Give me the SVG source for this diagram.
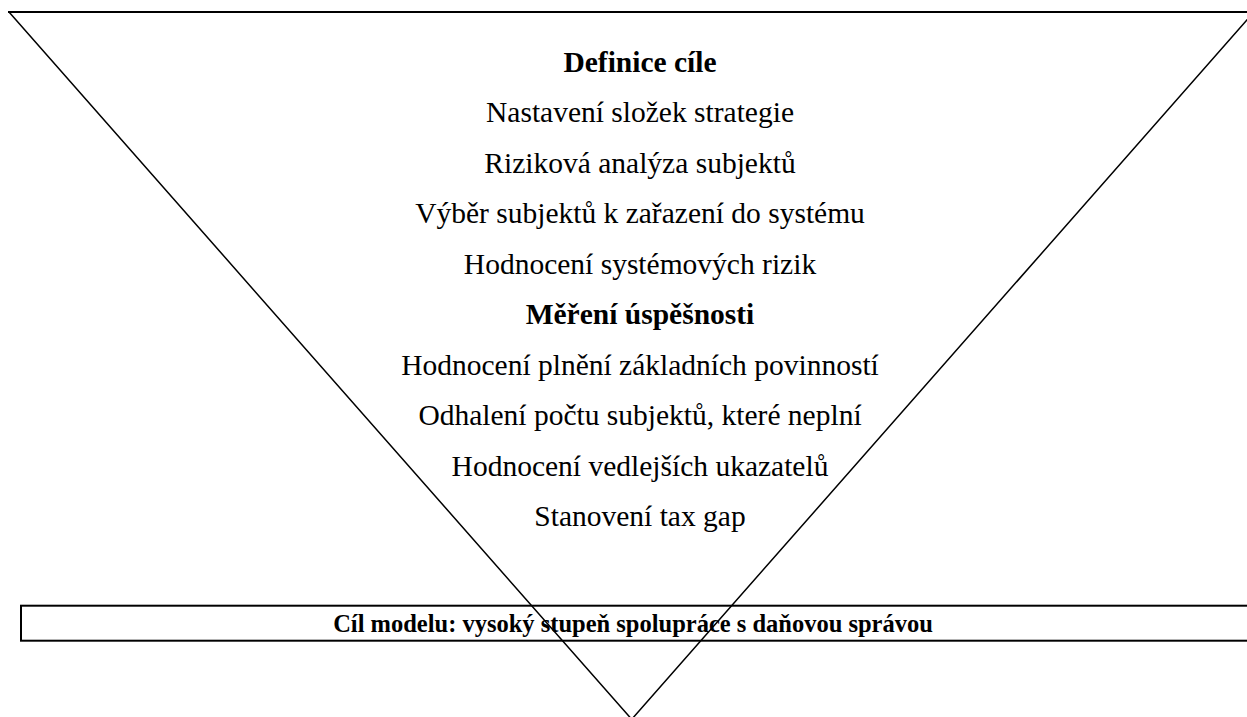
<svg xmlns="http://www.w3.org/2000/svg" width="1247" height="717" viewBox="0 0 1247 717">
  <style>
    .edge { fill: none; stroke: #000; stroke-width: 1.5; }
    .rim { fill: none; stroke: #000; stroke-width: 2; }
    .frame { fill: none; stroke: #000; stroke-width: 2; }
    .item { font-family: "Liberation Serif", "Times New Roman", serif; font-size: 29.5px; fill: #000; text-anchor: middle; }
    .head { font-weight: bold; }
    .goal { font-family: "Liberation Serif", "Times New Roman", serif; font-size: 24.5px; font-weight: bold; fill: #000; text-anchor: middle; }
  </style>
  <rect width="1247" height="717" fill="#fff"/>

  <!-- inverted funnel outline: top rim plus two converging sides -->
  <g id="connectors">
    <line class="rim" x1="8" y1="12" x2="1256" y2="12"/>
    <path class="edge" d="M9,12 L631.7,719.3 L1254,12"/>
  </g>

  <!-- steps listed inside the funnel -->
  <g id="steps">
    <text class="item head" x="640" y="71.5">Definice cíle</text>
    <text class="item" x="640" y="122">Nastavení složek strategie</text>
    <text class="item" x="640" y="172.5">Riziková analýza subjektů</text>
    <text class="item" x="640" y="223">Výběr subjektů k zařazení do systému</text>
    <text class="item" x="640" y="273.5">Hodnocení systémových rizik</text>
    <text class="item head" x="640" y="324">Měření úspěšnosti</text>
    <text class="item" x="640" y="374.5">Hodnocení plnění základních povinností</text>
    <text class="item" x="640" y="425">Odhalení počtu subjektů, které neplní</text>
    <text class="item" x="640" y="475.5">Hodnocení vedlejších ukazatelů</text>
    <text class="item" x="640" y="526">Stanovení tax gap</text>
  </g>

  <!-- model goal bar -->
  <g id="goal">
    <rect class="frame" x="21" y="605.7" width="1240" height="35"/>
    <text class="goal" x="633" y="631.5">Cíl modelu: vysoký stupeň spolupráce s daňovou správou</text>
  </g>
</svg>
